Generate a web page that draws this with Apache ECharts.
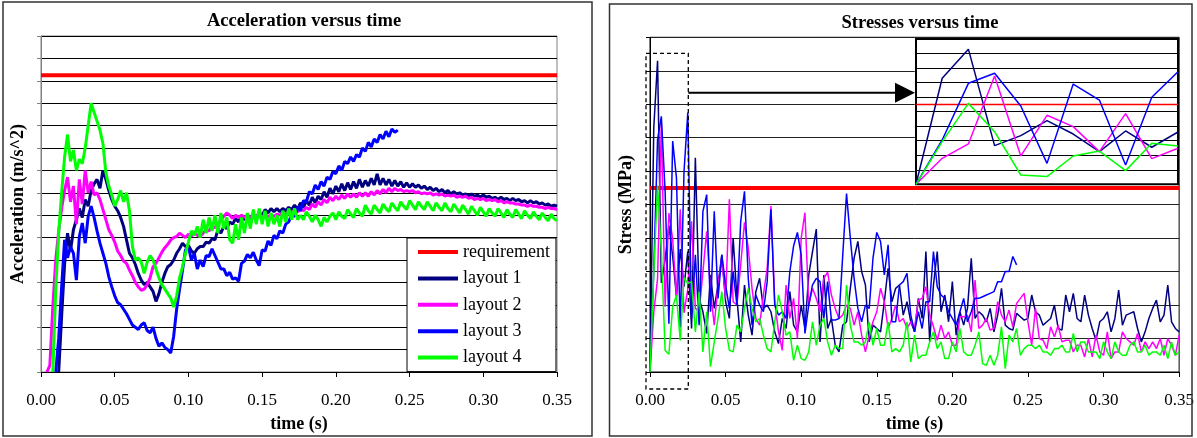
<!DOCTYPE html>
<html><head><meta charset="utf-8">
<script src="https://cdn.jsdelivr.net/npm/echarts@6/dist/echarts.min.js"></script>
<style>html,body{margin:0;padding:0;background:#fff}#c{width:1197px;height:438px}</style>
</head><body><div id="c"></div>
<script>
// ---------- data ----------
const seriesNames = ['requirement', 'layout 1', 'layout 2', 'layout 3', 'layout 4'];
const timeTicks = [0, 0.05, 0.10, 0.15, 0.20, 0.25, 0.30, 0.35];
const ACC_DT = 0.002;      // s, sample step of acceleration curves
const STRESS_DT = 0.0025;  // s, sample step of stress curves
const ACC_REQ = 13.25;
const STRESS_REQ = 5.5;
const INSET_POINTS = 11;   // 0 .. 0.025 s

const accLayout1 = [null,null,null,null,null,null,
0,2.5,4.8,6.2,5.4,6.35,6.8,7.3,6.9,7.7,
7.4,8.1,8.4,8.6,8.2,9.0,8.6,8.1,7.7,7.4,
7.2,6.9,6.5,5.9,5.3,5.1,4.8,4.4,4.1,3.9,
4.0,3.8,3.6,3.15,3.5,4.0,4.4,4.7,4.8,5.0,
5.3,5.5,5.75,5.6,5.65,5.4,5.3,5.5,5.6,5.6,
5.8,5.75,5.95,5.9,6.35,6.2,6.5,6.4,6.7,6.6,
6.85,6.7,6.95,6.8,7.0,6.85,7.0,6.9,7.1,7.0,
7.25,7.1,7.3,7.15,7.3,7.15,7.3,7.2,7.35,7.25,
7.45,7.25,7.55,7.35,7.65,7.45,7.8,7.55,7.85,7.7,
8.05,7.8,8.2,7.95,8.3,8.05,8.4,8.1,8.45,8.15,
8.5,8.2,8.6,8.25,8.55,8.3,8.65,8.35,8.85,8.35,
8.65,8.35,8.6,8.3,8.55,8.3,8.5,8.25,8.45,8.25,
8.4,8.25,8.35,8.2,8.3,8.15,8.25,8.1,8.2,8.05,
8.15,8.0,8.1,7.95,8.05,7.95,8.0,7.9,7.95,7.85,
7.95,7.85,7.9,7.8,7.9,7.8,7.85,7.75,7.8,7.7,
7.8,7.7,7.75,7.65,7.75,7.65,7.7,7.6,7.65,7.55,
7.65,7.55,7.6,7.5,7.55,7.45,7.5,7.4,7.45,7.4];

const accLayout2 = [null,null,0,0.3,2.9,5.0,6.3,7.3,8.1,8.7,
7.6,8.3,6.6,8.6,7.5,9.0,8.0,8.5,7.9,8.0,
7.7,7.25,6.8,6.35,6.1,5.8,5.4,5.2,4.95,4.85,
4.55,4.3,4.0,3.8,3.65,3.7,3.9,4.2,4.7,4.85,
5.1,5.35,5.55,5.7,5.9,6.0,6.05,6.2,6.1,6.0,
6.15,6.05,6.25,6.1,6.05,6.2,6.35,6.3,6.5,6.45,
6.6,6.8,6.95,7.1,7.0,6.85,7.0,6.9,7.0,6.9,
7.0,6.9,7.0,6.95,7.0,6.9,7.0,6.95,7.0,6.95,
7.05,7.0,7.1,7.05,7.15,7.1,7.2,7.15,7.25,7.2,
7.35,7.25,7.5,7.35,7.6,7.45,7.7,7.55,7.8,7.65,
7.85,7.7,7.9,7.75,7.95,7.8,7.95,7.8,8.0,7.85,
8.0,7.85,8.05,7.9,8.1,7.95,8.15,8.0,8.2,8.05,
8.2,8.1,8.15,8.05,8.1,8.05,8.1,8.0,8.05,7.95,
8.0,7.95,8.0,7.9,7.95,7.9,7.95,7.85,7.9,7.85,
7.9,7.8,7.85,7.8,7.85,7.75,7.8,7.7,7.75,7.7,
7.75,7.65,7.7,7.65,7.7,7.6,7.65,7.55,7.6,7.55,
7.55,7.5,7.5,7.45,7.45,7.4,7.45,7.4,7.4,7.35,
7.35,7.3,7.35,7.3,7.3,7.25];

const accLayout3 = [null,null,null,null,null,0,1.5,3.8,5.9,5.1,
5.6,5.3,4.1,6.05,6.65,5.75,6.95,7.4,6.9,6.3,
5.75,5.3,4.85,4.25,3.8,3.4,3.1,3.0,2.8,2.6,
2.35,2.1,2.0,1.9,2.1,2.2,1.85,1.75,2.0,1.5,
1.15,1.3,1.1,1.0,0.85,1.6,2.8,3.7,4.55,5.45,
5.6,5.0,5.3,4.6,5.0,4.7,5.2,5.15,5.5,5.2,
4.9,4.6,4.6,4.3,4.45,4.15,4.2,4.05,4.85,4.95,
5.25,5.1,5.35,5.0,4.75,5.45,5.4,5.85,5.65,6.1,
5.95,6.3,6.2,6.6,6.7,7.0,6.95,7.35,7.2,7.65,
7.6,8.05,7.95,8.35,8.15,8.5,8.3,8.7,8.6,8.95,
8.85,9.2,9.0,9.4,9.3,9.6,9.4,9.7,9.6,10.0,
9.85,10.25,10.05,10.4,10.25,10.6,10.4,10.75,10.5,10.85,
10.7,10.8];

const accLayout4 = [null,null,null,null,0,3.7,6.2,8.0,9.6,10.6,
9.4,9.9,9.0,9.5,9.3,10.0,11.0,12.0,11.6,11.2,
10.8,10.2,8.9,8.3,7.9,7.4,7.7,8.1,7.6,8.0,
7.2,5.6,5.0,5.1,4.9,4.4,4.9,5.2,5.0,4.6,
4.2,3.9,3.7,3.5,3.3,2.9,3.4,4.2,4.7,5.3,
5.8,6.3,6.1,6.5,6.0,6.8,6.2,6.9,6.3,7.0,
6.2,7.1,6.4,6.9,5.9,5.75,6.6,5.9,6.9,6.2,
7.1,6.4,7.25,6.6,7.3,6.6,7.2,6.5,7.1,6.6,
7.0,6.5,7.2,6.7,7.3,6.8,7.3,6.8,7.0,6.8,
7.15,6.95,6.7,7.0,6.8,6.5,6.9,6.7,6.95,7.1,
6.8,7.15,6.95,6.85,7.25,7.05,6.9,7.3,7.1,6.95,
7.45,7.2,7.05,7.45,7.25,7.1,7.5,7.3,7.15,7.55,
7.35,7.2,7.6,7.4,7.25,7.65,7.45,7.25,7.6,7.4,
7.25,7.6,7.4,7.2,7.55,7.35,7.2,7.55,7.3,7.15,
7.5,7.3,7.1,7.45,7.25,7.05,7.4,7.2,7.0,7.35,
7.15,6.95,7.3,7.1,6.95,7.3,7.1,6.9,7.25,7.05,
6.9,7.25,7.05,6.85,7.2,7.0,6.85,7.15,6.95,6.8,
7.1,6.9,6.75,7.05,6.85,6.75];

const stressLayout1 = [0,7.3,9.3,2.66,3.35,4.38,3.46,2.25,3.67,2.55,3.6,
1.3,6.4,2.2,1.8,1.15,2.9,1.9,2.6,3.5,2.1,
1.6,4.0,2.2,0.9,2.6,1.7,1.1,2.4,2.8,1.9,
2.0,1.8,1.2,0.85,1.6,1.3,2.4,1.4,1.2,2.0,
1.3,2.9,3.6,4.27,0.9,2.9,1.3,1.6,0.8,0.6,
1.4,1.5,2.5,3.4,3.9,3.0,2.6,0.9,1.4,1.3,
1.2,2.1,3.1,2.1,2.5,2.6,1.7,2.1,1.5,1.2,
2.2,1.6,3.6,0.9,2.6,3.6,1.8,2.3,1.5,2.7,
1.1,1.8,1.4,1.9,3.4,1.6,1.8,1.7,1.5,1.9,
1.2,1.7,2.5,1.4,1.3,1.25,1.75,1.65,1.55,1.6,
2.3,1.8,1.7,1.4,1.5,1.6,2.0,1.3,1.25,2.3,
1.8,2.35,1.6,1.5,2.3,1.7,1.3,0.95,1.5,1.6,
1.8,1.2,1.6,2.45,1.4,1.7,1.75,1.8,1.3,0.9,
1.2,1.6,1.9,2.15,1.5,1.7,2.6,1.5,1.3,1.2];

const stressLayout2 = [0,1.79,2.78,7.45,1.95,4.75,3.97,2.25,4.86,1.77,2.48,
4.5,1.9,1.8,3.0,4.2,2.4,1.4,2.6,3.4,2.2,
5.16,2.1,2.0,3.2,4.47,3.7,2.5,1.6,1.4,2.3,
3.1,4.96,2.1,1.2,0.65,2.6,1.6,2.2,1.0,4.0,
4.76,2.0,2.5,2.2,1.8,2.8,2.98,2.3,1.9,1.6,
1.7,2.0,1.9,1.4,1.8,1.1,0.6,1.1,1.5,1.8,
2.5,2.1,1.3,1.6,2.0,1.5,1.6,1.3,1.5,1.3,
2.15,2.2,2.55,1.7,1.35,0.95,1.4,1.0,1.2,0.8,
0.8,1.65,1.65,1.7,1.2,2.75,1.3,1.4,1.6,1.25,
1.3,2.1,1.7,1.5,1.85,1.35,2.05,2.2,2.35,1.5,
0.8,1.9,1.0,0.95,0.7,1.35,1.05,1.4,0.9,0.95,
0.95,0.6,0.8,0.8,0.45,1.0,0.45,1.1,0.6,0.5,
1.2,0.4,0.6,0.6,1.2,1.0,0.9,0.8,1.15,0.6,
0.9,0.7,0.9,0.7,1.0,0.5,1.0,0.8,0.5,1.1];

const stressLayout3 = [0,3.05,6.95,7.64,5.39,1.44,6.9,5.8,1.33,5.99,7.75,
1.6,3.5,1.4,4.8,5.3,1.8,4.8,2.2,3.5,2.6,
1.9,3.0,2.0,4.5,5.4,2.8,1.4,2.3,2.0,1.8,
2.7,4.86,2.0,1.7,1.8,1.6,3.0,3.77,4.17,3.5,
1.15,2.0,2.6,2.8,2.7,1.6,2.7,1.55,1.55,1.6,
3.5,5.33,4.0,2.8,1.9,1.5,2.0,1.9,3.4,4.17,
3.9,2.9,3.8,1.5,1.5,2.6,2.7,2.95,1.7,1.2,
1.8,1.3,2.1,2.1,3.6,2.55,2.3,2.2,1.8,1.6,
1.4,1.8,2.2,1.5,1.8,2.2,2.2,2.25,2.3,2.35,
2.4,2.7,2.7,3.0,3.0,3.45,3.2];

const stressLayout4 = [0,2.94,5.57,3.62,0.64,0.53,1.95,2.29,0.94,2.82,2.64,
2.7,1.2,2.4,0.6,1.8,0.16,0.9,1.6,2.4,1.3,
0.65,0.6,1.4,1.2,1.9,2.5,1.9,1.5,1.6,1.1,
0.7,0.6,1.5,2.3,1.8,1.1,1.2,0.35,0.8,0.4,
0.35,0.6,1.5,0.8,1.4,1.6,0.9,0.5,0.8,0.7,
0.7,2.6,1.4,0.9,0.9,0.8,0.9,1.5,0.8,1.3,
0.8,0.8,1.5,0.6,0.7,0.6,0.8,1.5,0.3,1.1,
0.4,0.5,0.5,0.9,1.2,0.7,0.9,0.4,0.4,0.9,
0.6,1.3,0.6,0.5,0.5,0.8,1.2,0.25,0.2,0.5,
0.2,0.5,1.35,0.1,1.1,0.9,1.3,0.5,0.7,0.8,
0.8,0.7,0.8,0.6,0.6,0.5,0.7,0.7,0.8,0.6,
0.6,1.15,0.6,0.9,0.9,0.6,0.6,0.6,0.4,0.9,
0.6,0.4,0.9,0.6,0.5,0.5,0.8,0.9,0.6,0.6,
0.8,0.5,0.6,0.6,0.5,0.8,0.4,0.9,0.5,0.6];

// ---------- helpers ----------
const FONT = "'Liberation Serif','Times New Roman',serif";
const COLORS = ['#FF0000', '#000080', '#FF00FF', '#0000FF', '#00FF00'];
const pairs = (arr, dt) => arr.map((v, i) => [+(i * dt).toFixed(5), v]);
const accData = [accLayout1, accLayout2, accLayout3, accLayout4];
const stressData = [stressLayout1, stressLayout2, stressLayout3, stressLayout4];
const T_MAX = timeTicks[timeTicks.length - 1];

const chart = echarts.init(document.getElementById('c'), null, {renderer: 'canvas'});

function xAxisMain(grid) {
  return {
    gridIndex: grid, type: 'value', min: timeTicks[0], max: T_MAX, interval: 0.05,
    axisLine: {onZero: false, lineStyle: {color: '#000', width: 1}},
    axisTick: {show: true, length: 5, lineStyle: {color: '#000'}},
    axisLabel: {formatter: v => v.toFixed(2), fontSize: 17, color: '#000', fontFamily: FONT, margin: 20},
    splitLine: {show: false},
    name: 'time (s)', nameLocation: 'middle', nameGap: 43,
    nameTextStyle: {fontSize: 18, fontWeight: 'bold', color: '#000', fontFamily: FONT}
  };
}

const series = [];
// left chart
series.push({name: seriesNames[0], type: 'line', xAxisIndex: 0, yAxisIndex: 0, symbol: 'none',
  data: [[0, ACC_REQ], [T_MAX, ACC_REQ]], lineStyle: {color: COLORS[0], width: 4}, itemStyle: {color: COLORS[0]}, z: 3});
accData.forEach((d, i) => series.push({name: seriesNames[i + 1], type: 'line', xAxisIndex: 0, yAxisIndex: 0,
  symbol: 'none', data: pairs(d, ACC_DT), lineStyle: {color: COLORS[i + 1], width: 3}, itemStyle: {color: COLORS[i + 1]}, z: 3}));
// right chart
series.push({name: seriesNames[0], type: 'line', xAxisIndex: 1, yAxisIndex: 1, symbol: 'none',
  data: [[0, STRESS_REQ], [T_MAX, STRESS_REQ]], lineStyle: {color: COLORS[0], width: 4}, itemStyle: {color: COLORS[0]}, z: 3});
stressData.forEach((d, i) => series.push({name: seriesNames[i + 1], type: 'line', xAxisIndex: 1, yAxisIndex: 1,
  symbol: 'none', data: pairs(d, STRESS_DT), lineStyle: {color: COLORS[i + 1], width: 1.5}, itemStyle: {color: COLORS[i + 1]}, z: 3}));
// inset
const INSET_MAX = (INSET_POINTS - 1) * STRESS_DT;
series.push({name: seriesNames[0], type: 'line', xAxisIndex: 2, yAxisIndex: 2, symbol: 'none',
  data: [[0, STRESS_REQ], [INSET_MAX, STRESS_REQ]], lineStyle: {color: COLORS[0], width: 1.5}, itemStyle: {color: COLORS[0]}, z: 12});
stressData.forEach((d, i) => series.push({name: seriesNames[i + 1], type: 'line', xAxisIndex: 2, yAxisIndex: 2,
  symbol: 'none', data: pairs(d.slice(0, INSET_POINTS), STRESS_DT), lineStyle: {color: COLORS[i + 1], width: 1.5}, itemStyle: {color: COLORS[i + 1]}, z: 12}));

const option = {
  animation: false,
  backgroundColor: '#fff',
  textStyle: {fontFamily: FONT},
  title: [
    {text: 'Acceleration versus time', left: 299, top: 7, textAlign: 'center',
     textStyle: {fontSize: 18.5, fontWeight: 'bold', color: '#000', fontFamily: FONT}},
    {text: 'Stresses versus time', left: 915, top: 9, textAlign: 'center',
     textStyle: {fontSize: 18.5, fontWeight: 'bold', color: '#000', fontFamily: FONT}}
  ],
  legend: {
    data: seriesNames, orient: 'vertical', left: 407, top: 238,
    icon: 'rect', itemWidth: 40, itemHeight: 4, itemGap: 6.4,
    padding: [4, 6, 4, 11], borderColor: '#000', borderWidth: 1, backgroundColor: '#fff',
    selectedMode: false, z: 20,
    textStyle: {fontSize: 18, color: '#000', fontFamily: FONT, lineHeight: 20}
  },
  grid: [
    {left: 41, top: 36, width: 516, height: 336.3, show: true, borderColor: '#808080', borderWidth: 1},
    {left: 650, top: 37.3, width: 530, height: 336.4, show: true, borderColor: '#000', borderWidth: 1},
    {left: 916, top: 39, width: 262, height: 145.3, show: true, borderColor: '#000', borderWidth: 2,
     backgroundColor: '#fff', z: 10}
  ],
  xAxis: [
    xAxisMain(0), xAxisMain(1),
    {gridIndex: 2, type: 'value', min: 0, max: INSET_MAX, show: false, z: 11}
  ],
  yAxis: [
    {gridIndex: 0, type: 'value', min: 0, max: 15, interval: 1,
     axisLine: {show: true, lineStyle: {color: '#808080'}}, axisTick: {show: true, length: 4, lineStyle: {color: '#808080'}},
     axisLabel: {show: false}, splitLine: {show: true, lineStyle: {color: '#000', width: 1}},
     name: 'Acceleration (m/s^2)', nameLocation: 'middle', nameGap: 14,
     nameTextStyle: {fontSize: 18, fontWeight: 'bold', color: '#000', fontFamily: FONT}},
    {gridIndex: 1, type: 'value', min: 0, max: 10, interval: 1,
     axisLine: {show: true, lineStyle: {color: '#000'}}, axisTick: {show: true, length: 4, lineStyle: {color: '#000'}},
     axisLabel: {show: false}, splitLine: {show: true, lineStyle: {color: '#222', width: 1}},
     name: 'Stress (MPa)', nameLocation: 'middle', nameGap: 15,
     nameTextStyle: {fontSize: 18, fontWeight: 'bold', color: '#000', fontFamily: FONT}},
    {gridIndex: 2, type: 'value', min: 0, max: 10, interval: 1, z: 11,
     axisLine: {show: false}, axisTick: {show: false}, axisLabel: {show: false},
     splitLine: {show: true, lineStyle: {color: '#000', width: 1}}}
  ],
  series: series
};
chart.setOption(option);

// ---------- annotations (panel frames, zoom box, arrow) ----------
const toPx = (idx, pt) => chart.convertToPixel({xAxisIndex: idx, yAxisIndex: idx}, pt);
const boxTL = toPx(1, [0, 9.52]);
const boxBR = toPx(1, [INSET_MAX, 0]);
const arrowY = toPx(1, [0, 8.34])[1];
const insetLeft = toPx(2, [0, 0])[0];
const bx1 = boxTL[0] - 4, bx2 = boxBR[0] + 0.5, by1 = boxTL[1], by2 = boxBR[1] + 17;

chart.setOption({
  graphic: [
    {type: 'rect', shape: {x: 3, y: 2, width: 589, height: 434}, style: {fill: 'none', stroke: '#333', lineWidth: 1.5}, z: 50, silent: true},
    {type: 'rect', shape: {x: 609.5, y: 4, width: 582.5, height: 432}, style: {fill: 'none', stroke: '#333', lineWidth: 1.5}, z: 50, silent: true},
    {type: 'rect', shape: {x: bx1, y: by1, width: bx2 - bx1, height: by2 - by1},
     style: {fill: 'none', stroke: '#000', lineWidth: 1.3, lineDash: [4, 3]}, z: 30, silent: true},
    {type: 'line', shape: {x1: bx2, y1: arrowY, x2: insetLeft - 18, y2: arrowY},
     style: {stroke: '#000', lineWidth: 2}, z: 30, silent: true},
    {type: 'polygon', shape: {points: [[insetLeft - 21, arrowY - 10], [insetLeft - 1, arrowY], [insetLeft - 21, arrowY + 10]]},
     style: {fill: '#000'}, z: 30, silent: true}
  ]
});
</script>
</body></html>
